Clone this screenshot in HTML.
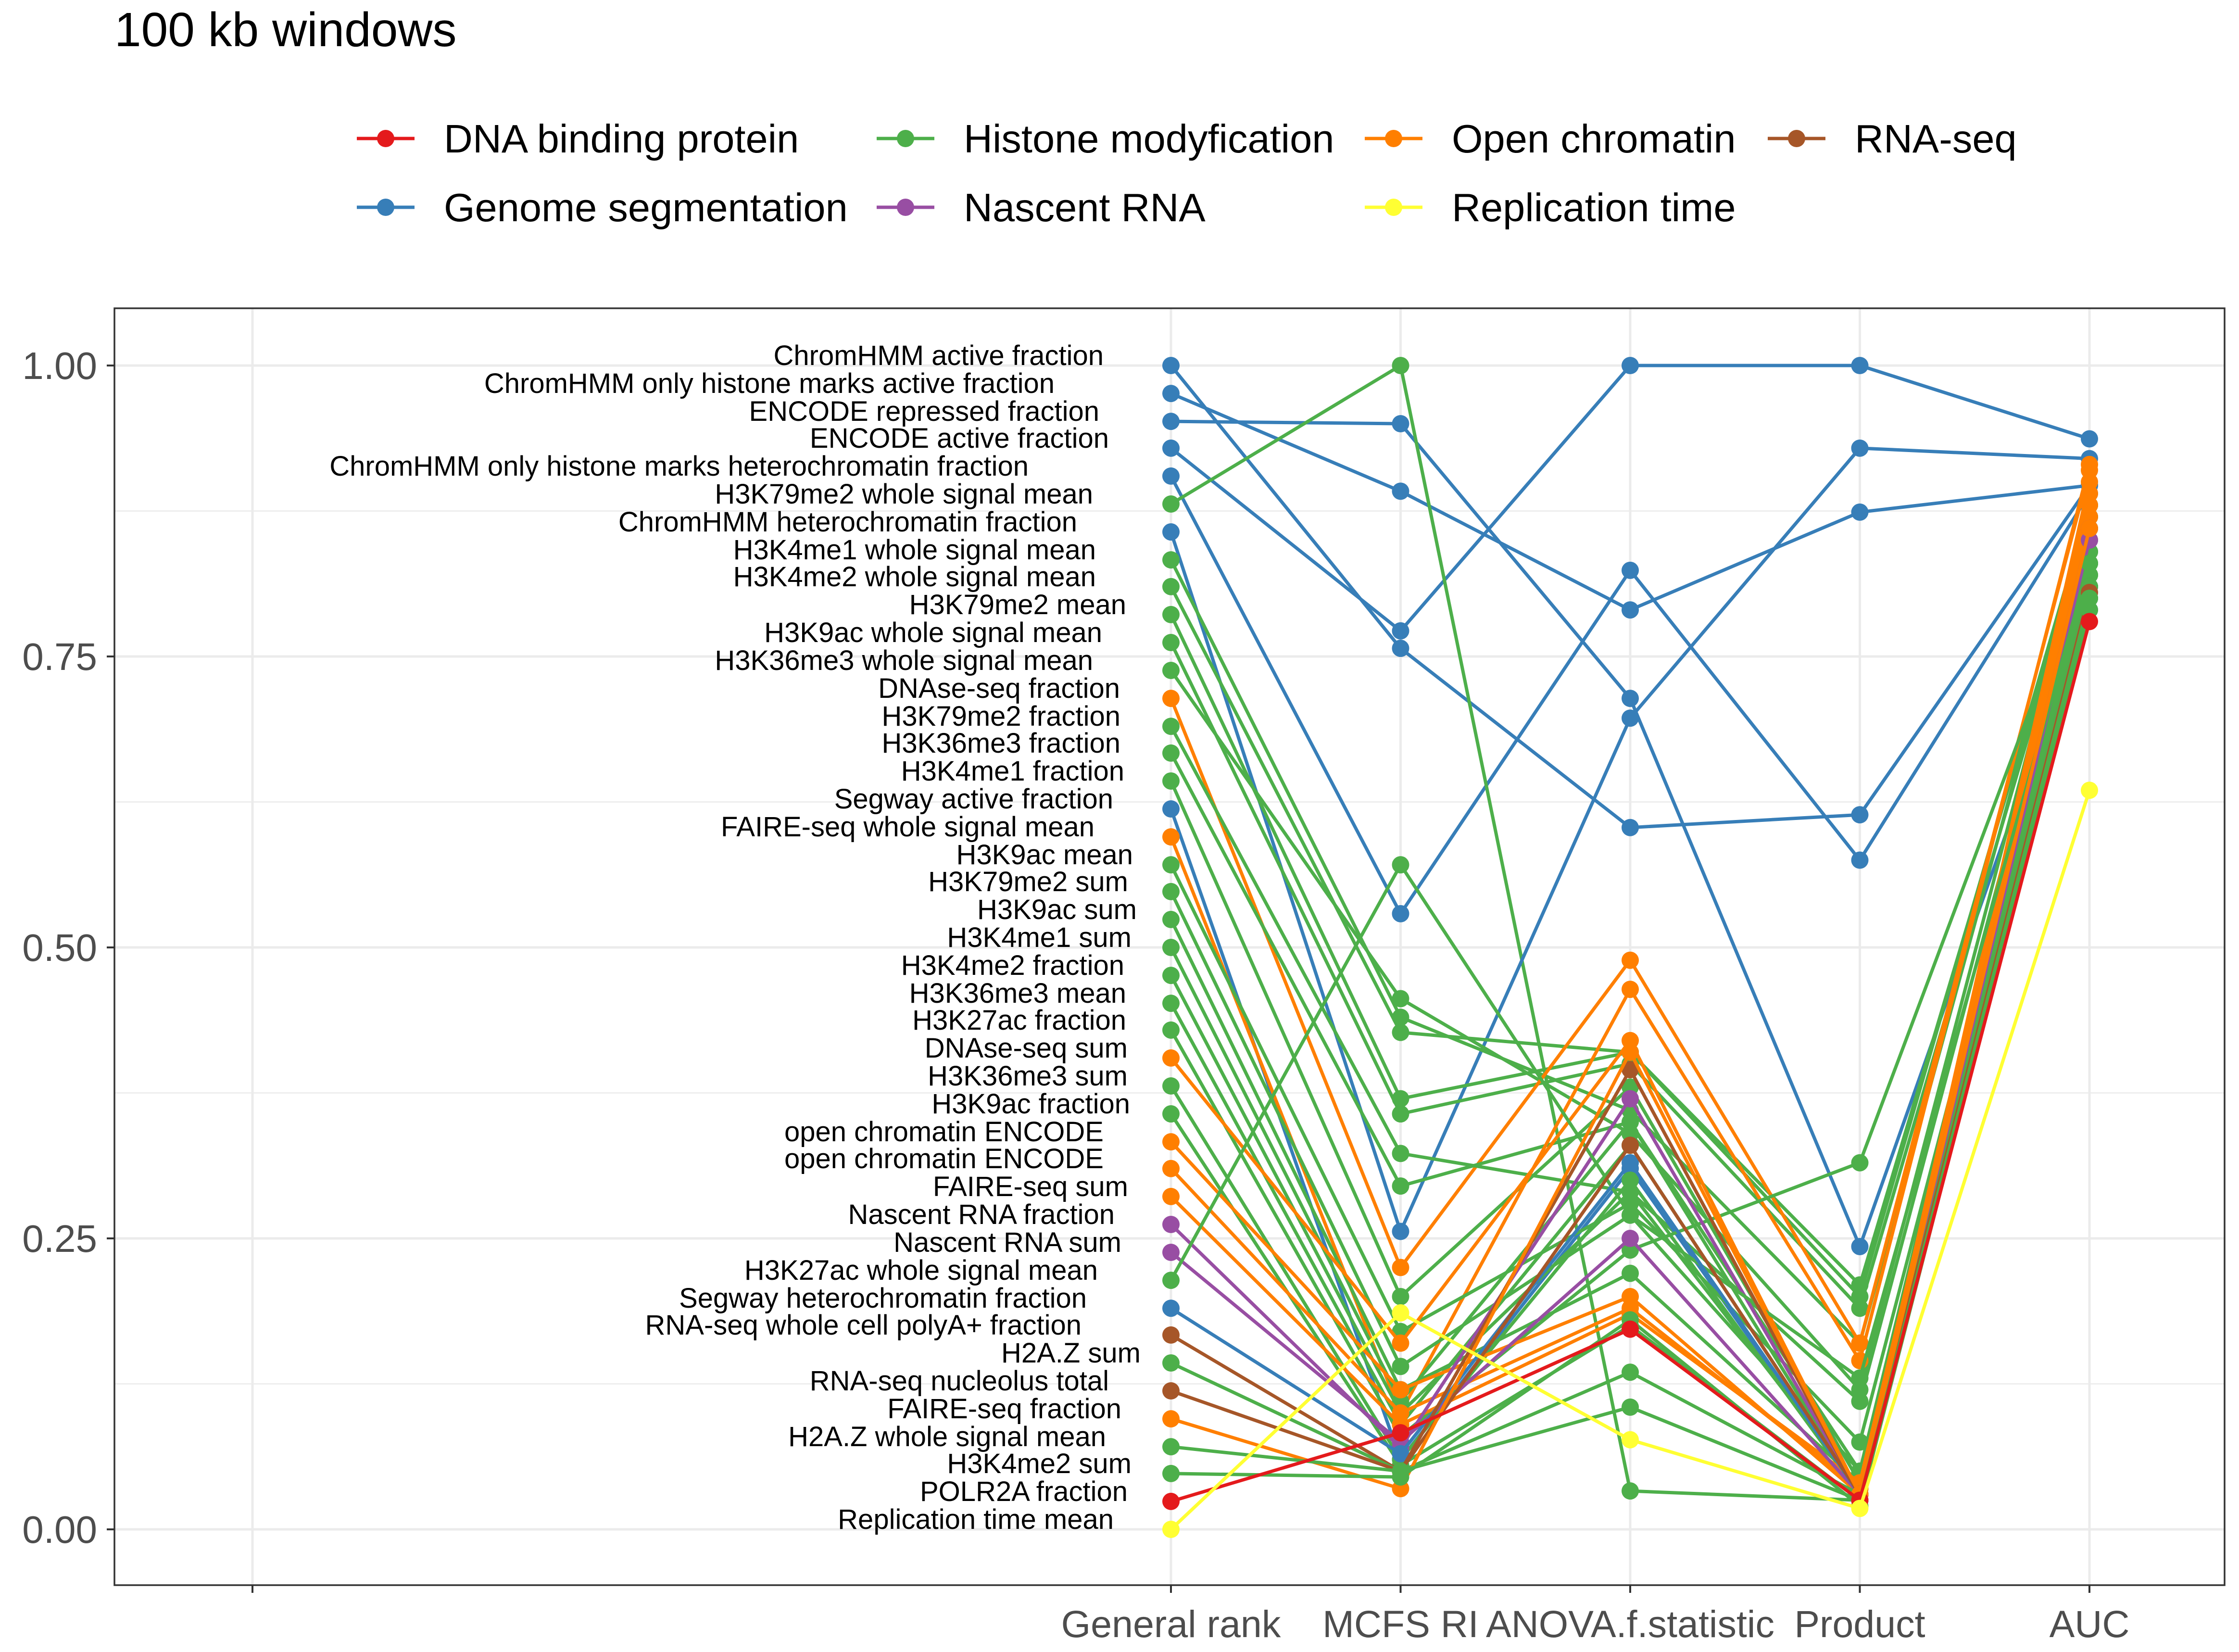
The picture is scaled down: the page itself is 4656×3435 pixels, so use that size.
<!DOCTYPE html>
<html><head><meta charset="utf-8"><style>
html,body{margin:0;padding:0;background:#fff;}
svg{display:block;font-family:"Liberation Sans",sans-serif;}
</style></head><body>
<svg id="chart" width="4656" height="3435" viewBox="0 0 4656 3435" xmlns="http://www.w3.org/2000/svg">
<rect width="4656" height="3435" fill="#fff"/>
<text x="238" y="96" font-size="100" fill="#000">100 kb windows</text>
<g id="legend"></g>
<g id="grid"></g>
<g id="series"></g>
<g id="labels"></g>
<rect x="238" y="641" width="4388" height="2655" fill="none" stroke="#333" stroke-width="3.5"/>
<g id="axes"></g>
</svg>
<script>
const categories = ["General rank","MCFS RI","ANOVA.f.statistic","Product","AUC"];
const yTicks = [0,0.25,0.5,0.75,1];
const yTickLabels = ["0.00","0.25","0.50","0.75","1.00"];
const featureNames = ["ChromHMM active fraction","ChromHMM only histone marks active fraction","ENCODE repressed fraction","ENCODE active fraction","ChromHMM only histone marks heterochromatin fraction","H3K79me2 whole signal mean","ChromHMM heterochromatin fraction","H3K4me1 whole signal mean","H3K4me2 whole signal mean","H3K79me2 mean","H3K9ac whole signal mean","H3K36me3 whole signal mean","DNAse-seq fraction","H3K79me2 fraction","H3K36me3 fraction","H3K4me1 fraction","Segway active fraction","FAIRE-seq whole signal mean","H3K9ac mean","H3K79me2 sum","H3K9ac sum","H3K4me1 sum","H3K4me2 fraction","H3K36me3 mean","H3K27ac fraction","DNAse-seq sum","H3K36me3 sum","H3K9ac fraction","open chromatin ENCODE","open chromatin ENCODE","FAIRE-seq sum","Nascent RNA fraction","Nascent RNA sum","H3K27ac whole signal mean","Segway heterochromatin fraction","RNA-seq whole cell polyA+ fraction","H2A.Z sum","RNA-seq nucleolus total","FAIRE-seq fraction","H2A.Z whole signal mean","H3K4me2 sum","POLR2A fraction","Replication time mean"];
const groups = ["G","G","G","G","G","H","G","H","H","H","H","H","O","H","H","H","G","O","H","H","H","H","H","H","H","O","H","H","O","O","O","N","N","H","G","R","H","R","O","H","H","D","Y"];
const generalRank = [1.000,0.976,0.952,0.929,0.905,0.881,0.857,0.833,0.810,0.786,0.762,0.738,0.714,0.690,0.667,0.643,0.619,0.595,0.571,0.548,0.524,0.500,0.476,0.452,0.429,0.405,0.381,0.357,0.333,0.310,0.286,0.262,0.238,0.214,0.190,0.167,0.143,0.119,0.095,0.071,0.048,0.024,0.000];
const mcfsRI = [0.757,0.892,0.950,0.772,0.529,1.000,0.256,0.440,0.427,0.370,0.357,0.456,0.225,0.323,0.295,0.200,0.060,0.100,0.170,0.140,0.120,0.110,0.100,0.090,0.080,0.160,0.060,0.055,0.120,0.100,0.090,0.070,0.075,0.571,0.065,0.050,0.050,0.050,0.035,0.050,0.045,0.083,0.186];
const anovaF = [0.603,0.790,0.714,1.000,0.824,0.033,0.697,0.360,0.410,0.410,0.400,0.340,0.489,0.290,0.350,0.380,0.310,0.464,0.280,0.270,0.220,0.350,0.290,0.330,0.240,0.420,0.300,0.175,0.200,0.190,0.185,0.370,0.250,0.270,0.315,0.395,0.135,0.330,0.410,0.105,0.180,0.172,0.077];
const product = [0.614,0.874,0.243,1.000,0.575,0.025,0.929,0.160,0.210,0.200,0.190,0.120,0.160,0.110,0.050,0.040,0.030,0.145,0.075,0.050,0.040,0.030,0.035,0.030,0.315,0.030,0.030,0.025,0.030,0.035,0.040,0.030,0.030,0.130,0.030,0.030,0.030,0.030,0.030,0.025,0.020,0.025,0.018];
const auc = [0.897,0.897,0.800,0.937,0.890,0.820,0.920,0.880,0.870,0.880,0.860,0.870,0.910,0.850,0.860,0.840,0.790,0.915,0.830,0.830,0.820,0.830,0.810,0.820,0.840,0.900,0.800,0.800,0.890,0.880,0.870,0.850,0.860,0.830,0.810,0.810,0.810,0.805,0.860,0.800,0.790,0.780,0.635];
const legendNames = ["DNA binding protein","Genome segmentation","Histone modyfication","Nascent RNA","Open chromatin","Replication time","RNA-seq"];
const legendKeys = ["D","G","H","N","O","Y","R"];

const COLORS = {D:"#E41A1C",G:"#377EB8",H:"#4DAF4A",N:"#984EA3",O:"#FF7F00",Y:"#FFFF33",R:"#A65628"};
const labelEnds = [2295,2193,2286,2306,2139,2273,2240,2279,2279,2342,2292,2273,2329,2330,2330,2338,2315,2276,2356,2346,2364,2353,2338,2342,2342,2345,2345,2350,2295,2295,2346,2318,2332,2283,2260,2249,2372,2306,2332,2300,2353,2345,2316];
const NS = "http://www.w3.org/2000/svg";
const PX0 = 238, PX1 = 4626, PY0 = 641, PY1 = 3296;
function xPos(i){ return 525 + (i + 4) * 477.5; }
function yPos(v){ return 3180 - v * 2420; }
function mk(tag, attrs, parent){ const e = document.createElementNS(NS, tag); for (const k in attrs) e.setAttribute(k, attrs[k]); parent.appendChild(e); return e; }

const grid = document.getElementById('grid');
for (let v = 0.125; v < 1.1; v += 0.25) {
  const l = mk('line', {x1:PX0, x2:PX1, y1:yPos(v), y2:yPos(v), stroke:'#ebebeb', 'stroke-width':2.5}, grid);
  
  
}
yTicks.forEach(v => {
  const l = mk('line', {x1:PX0, x2:PX1, y1:yPos(v), y2:yPos(v), stroke:'#ebebeb', 'stroke-width':5}, grid);
  
  
});
[-4,0,1,2,3,4].forEach(i => {
  const l = mk('line', {x1:xPos(i), x2:xPos(i), y1:PY0, y2:PY1, stroke:'#ebebeb', 'stroke-width':5}, grid);
  
  
});

const seriesG = document.getElementById('series');
const labelsG = document.getElementById('labels');
for (let s = 0; s < featureNames.length; s++) {
  const vals = [generalRank[s], mcfsRI[s], anovaF[s], product[s], auc[s]];
  const col = COLORS[groups[s]];
  const g = mk('g', {}, seriesG);
  
  
  const pts = vals.map((v, i) => xPos(i) + ',' + yPos(v)).join(' ');
  mk('polyline', {points:pts, fill:'none', stroke:col, 'stroke-width':7, 'stroke-linejoin':'round'}, g);
  vals.forEach((v, i) => {
    const c = mk('circle', {cx:xPos(i), cy:yPos(v), r:18, fill:col}, g);
    
    
  });
  const t = mk('text', {x:labelEnds[s], y:yPos(generalRank[s]) - 1, 'text-anchor':'end', 'font-size':58, fill:'#000'}, labelsG);
  t.textContent = featureNames[s];
  
  
}

const axes = document.getElementById('axes');
yTicks.forEach((v, i) => {
  const tk = mk('line', {x1:PX0 - 16, x2:PX0, y1:yPos(v), y2:yPos(v), stroke:'#333', 'stroke-width':4}, axes);
  
  
  const t = mk('text', {x:PX0 - 36, y:yPos(v) + 28, 'text-anchor':'end', 'font-size':80, fill:'#4d4d4d'}, axes);
  t.textContent = yTickLabels[i];
  
  
});
[-4,0,1,2,3,4].forEach(i => {
  const tk = mk('line', {x1:xPos(i), x2:xPos(i), y1:PY1, y2:PY1 + 16, stroke:'#333', 'stroke-width':4}, axes);
  
  
});
categories.forEach((c, i) => {
  const t = mk('text', {x:xPos(i), y:3404, 'text-anchor':'middle', 'font-size':79, fill:'#4d4d4d'}, axes);
  t.textContent = c;
  
  
});

const legend = document.getElementById('legend');
const legendPos = [[742,288],[742,431],[1823,288],[1823,431],[2838,288],[2838,431],[3676,288]];
legendNames.forEach((n, i) => {
  const [x, y] = legendPos[i];
  const col = COLORS[legendKeys[i]];
  const g = mk('g', {}, legend);
  
  
  mk('line', {x1:x, x2:x + 120, y1:y, y2:y, stroke:col, 'stroke-width':7}, g);
  mk('circle', {cx:x + 60, cy:y, r:18, fill:col}, g);
  const t = mk('text', {x:x + 181, y:y + 29, 'font-size':83, fill:'#000'}, g);
  t.textContent = n;
});
</script>
</body></html>
